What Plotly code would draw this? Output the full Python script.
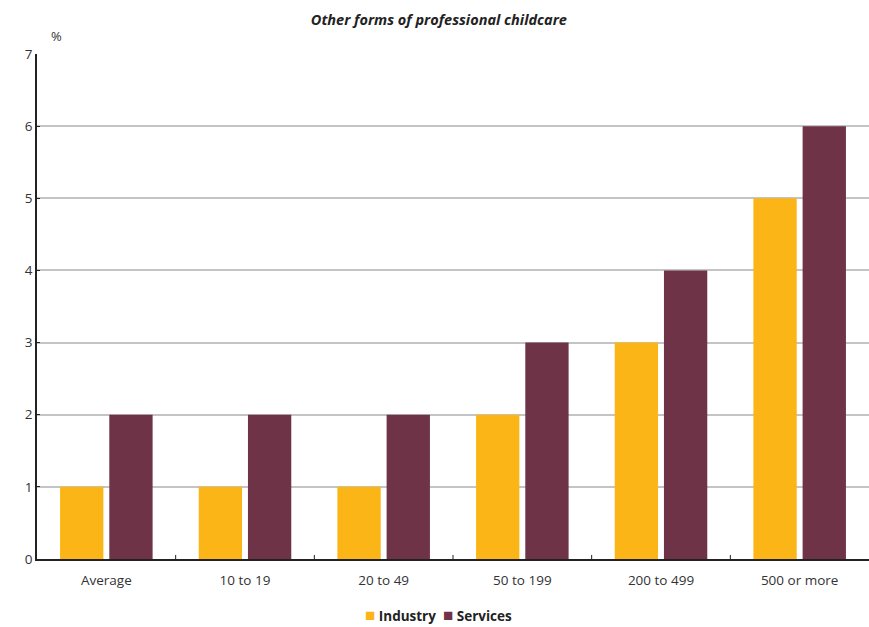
import plotly.graph_objects as go

categories = ["Average", "10 to 19", "20 to 49", "50 to 199", "200 to 499", "500 or more"]
industry = [1, 1, 1, 2, 3, 5]
services = [2, 2, 2, 3, 4, 6]

FONT = "Open Sans"
C_IND = "#FBB516"
C_SRV = "#6E3346"

fig = go.Figure()
fig.add_trace(go.Bar(name="Industry", x=categories, y=industry,
                     marker=dict(color=C_IND, line=dict(width=0))))
fig.add_trace(go.Bar(name="Services", x=categories, y=services,
                     marker=dict(color=C_SRV, line=dict(width=0))))

fig.update_layout(
    width=869, height=627,
    margin=dict(l=37, r=0, t=54, b=68, autoexpand=False),
    plot_bgcolor="white", paper_bgcolor="white",
    barmode="group", bargap=0.29, bargroupgap=0.12,
    font=dict(family=FONT, size=13, color="#333333"),
    title=dict(text="<b><i>Other forms of professional childcare</i></b>",
               x=0.505, xanchor="center", y=0.968, yanchor="middle",
               font=dict(family=FONT, size=14.5, color="#222222")),
    showlegend=False,
    xaxis=dict(showline=True, linecolor="#222222", linewidth=1.5,
               ticks="", showgrid=False, tickfont=dict(size=13.5),
               ticklabelstandoff=8),
    yaxis=dict(range=[0, 7], dtick=1, showline=True, linecolor="#222222", linewidth=1.5,
               showgrid=True, gridcolor="#C4C4C4", gridwidth=1.5,
               ticks="inside", ticklen=3, tickcolor="#222222",
               zeroline=False, tickfont=dict(size=13.5)),
)

fig.add_annotation(text="%", xref="paper", yref="paper", x=0.024, y=1.036,
                   xanchor="center", yanchor="middle",
                   showarrow=False, font=dict(family=FONT, size=13, color="#333333"))

# legend row below the axis
sq = "<span style='color:{};font-size:17px'>■</span>"
legend_text = (sq.format(C_IND) + " <b>Industry</b>  " + sq.format(C_SRV) + " <b>Services</b>")
fig.add_annotation(text=legend_text, xref="paper", yref="paper", x=0.483, y=-0.109,
                   xanchor="center", yanchor="middle", showarrow=False,
                   font=dict(family=FONT, size=13.5, color="#222222"))

# category separators on the x axis
for i in range(1, len(categories)):
    fig.add_shape(type="line", xref="x", yref="paper", x0=i - 0.5, x1=i - 0.5,
                  y0=0, y1=0.008, line=dict(color="#222222", width=1))

fig.write_html("out.html")
